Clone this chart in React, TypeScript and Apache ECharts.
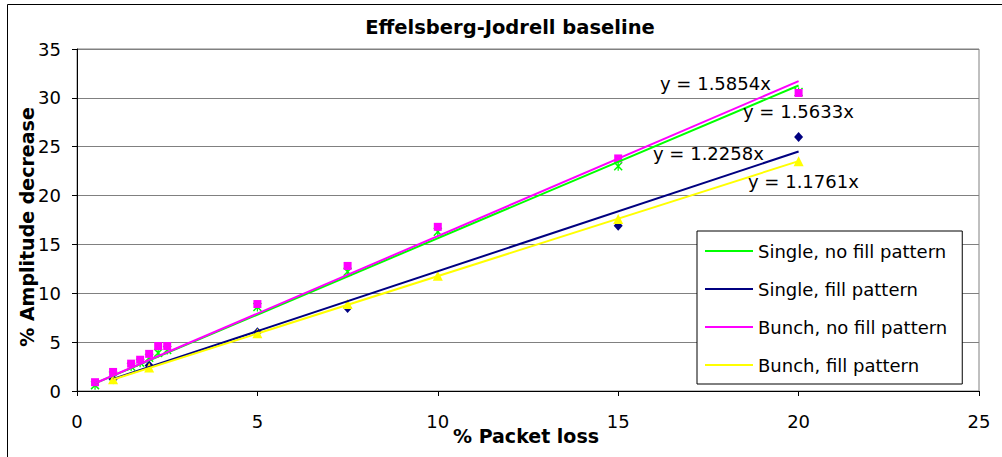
import React, { useEffect, useRef } from "react";
import * as echarts from "echarts";

const chartTitle = "Effelsberg-Jodrell baseline";
const xAxisTitle = "% Packet loss";
const yAxisTitle = "% Amplitude decrease";

const seriesNames = [
  "Single, no fill pattern",
  "Single, fill pattern",
  "Bunch, no fill pattern",
  "Bunch, fill pattern",
];
const seriesColors = ["#00ff00", "#000080", "#ff00ff", "#ffff00"];

const singleNoFillX = [0.5, 1, 1.5, 1.75, 2, 2.25, 2.5, 5, 7.5, 10, 15, 20];
const singleNoFillY = [0.6, 1.6, 2.5, 2.9, 3.4, 3.9, 4.2, 8.6, 12.2, 16.3, 23.0, 30.6];

const singleFillX = [1, 2, 5, 7.5, 15, 20];
const singleFillY = [1.2, 2.6, 6.0, 8.5, 16.9, 26.0];

const bunchNoFillX = [0.5, 1, 1.5, 1.75, 2, 2.25, 2.5, 5, 7.5, 10, 15, 20];
const bunchNoFillY = [0.9, 1.95, 2.8, 3.2, 3.8, 4.6, 4.6, 8.9, 12.8, 16.8, 23.8, 30.5];

const bunchFillX = [1, 2, 5, 7.5, 10, 15, 20];
const bunchFillY = [1.2, 2.4, 5.9, 8.9, 11.8, 17.6, 23.5];

const trendSlopes = [1.5633, 1.2258, 1.5854, 1.1761];

const xTickMin = 0;
const xTickMax = 25;
const xTickStep = 5;
const yTickMin = 0;
const yTickMax = 35;
const yTickStep = 5;

const FONT = "'DejaVu Sans', sans-serif";

const starX =
  "path://M0,1.2L1.2,0L5,3.8L8.8,0L10,1.2L6.2,5L10,8.8L8.8,10L5,6.2L1.2,10L0,8.8L3.8,5Z M4.3,0L5.7,0L5.7,10L4.3,10Z";

export default function App() {
  const ref = useRef<HTMLDivElement>(null);

  useEffect(() => {
    if (!ref.current) return;
    const chart = echarts.init(ref.current, undefined, { renderer: "svg" });

    const xs = [singleNoFillX, singleFillX, bunchNoFillX, bunchFillX];
    const ys = [singleNoFillY, singleFillY, bunchNoFillY, bunchFillY];
    const symbols: any[] = [starX, "diamond", "rect", "triangle"];
    const symbolSizes: any[] = [9, [9, 10], 8, 10];

    const scatterSeries = seriesNames.map((name, i) => ({
      name,
      type: "scatter",
      symbol: symbols[i],
      symbolSize: symbolSizes[i],
      itemStyle: { color: seriesColors[i], opacity: 1 },
      data: xs[i].map((x, j) => [x, ys[i][j]]),
      z: 3,
    }));

    const trendSeries = seriesNames.map((name, i) => {
      const xmin = Math.min(...xs[i]);
      const xmax = Math.max(...xs[i]);
      return {
        name: name + " trend",
        type: "line",
        showSymbol: false,
        symbol: "none",
        lineStyle: { color: seriesColors[i], width: 2 },
        data: [
          [xmin, trendSlopes[i] * xmin],
          [xmax, trendSlopes[i] * xmax],
        ],
        z: 4,
        silent: true,
      };
    });

    const eqPositions = [
      [743, 111],
      [653, 153.5],
      [660, 83.5],
      [748, 181.5],
    ];

    const option: any = {
      animation: false,
      backgroundColor: "#ffffff",
      textStyle: { fontFamily: FONT },
      grid: {
        left: 77,
        right: 23,
        top: 49,
        bottom: 66,
        show: true,
        borderColor: "#808080",
        borderWidth: 1,
        backgroundColor: "transparent",
      },
      xAxis: {
        type: "value",
        min: xTickMin,
        max: xTickMax,
        interval: xTickStep,
        axisLine: { show: true, onZero: false, lineStyle: { color: "#000", width: 1 } },
        axisTick: { show: true, length: 5, lineStyle: { color: "#000" } },
        axisLabel: { color: "#000", fontSize: 18, fontFamily: FONT, margin: 21 },
        splitLine: { show: false },
      },
      yAxis: {
        type: "value",
        min: yTickMin,
        max: yTickMax,
        interval: yTickStep,
        axisLine: { show: true, onZero: false, lineStyle: { color: "#000", width: 1 } },
        axisTick: { show: true, length: 5, lineStyle: { color: "#000" } },
        axisLabel: { color: "#000", fontSize: 18, fontFamily: FONT, margin: 16 },
        splitLine: { show: true, lineStyle: { color: "#808080", width: 1 } },
      },
      legend: {
        data: seriesNames,
        orient: "vertical",
        left: 697,
        top: 231,
        icon: "rect",
        itemWidth: 48,
        itemHeight: 2,
        itemGap: 20,
        padding: [11, 15, 10, 8],
        borderColor: "#000",
        borderWidth: 1,
        backgroundColor: "#fff",
        textStyle: { color: "#000", fontSize: 18, fontFamily: FONT },
        selectedMode: false,
        z: 10,
      },
      graphic: [
        {
          type: "rect",
          shape: { x: 7.5, y: 4.5, width: 2000, height: 2000 },
          style: { fill: "none", stroke: "#000", lineWidth: 1 },
          silent: true,
          z: -1,
        },
        {
          type: "text",
          x: 510,
          y: 27,
          style: {
            text: chartTitle,
            fill: "#000",
            font: `bold 19.5px ${FONT}`,
            textAlign: "center",
            textVerticalAlign: "middle",
          },
        },
        {
          type: "text",
          x: 526,
          y: 436,
          style: {
            text: xAxisTitle,
            fill: "#000",
            font: `bold 19px ${FONT}`,
            textAlign: "center",
            textVerticalAlign: "middle",
          },
        },
        {
          type: "text",
          x: 27,
          y: 227,
          rotation: Math.PI / 2,
          style: {
            text: yAxisTitle,
            fill: "#000",
            font: `bold 19px ${FONT}`,
            textAlign: "center",
            textVerticalAlign: "middle",
          },
        },
        ...trendSlopes.map((s, i) => ({
          type: "text",
          x: eqPositions[i][0],
          y: eqPositions[i][1],
          z: 20,
          style: {
            text: `y = ${s.toFixed(4)}x`,
            fill: "#000",
            font: `18px ${FONT}`,
            textAlign: "left",
            textVerticalAlign: "middle",
          },
        })),
      ],
      series: [...scatterSeries, ...trendSeries],
    };

    chart.setOption(option);
    return () => chart.dispose();
  }, []);

  return (
    <div
      ref={ref}
      style={{ position: "absolute", left: 0, top: 0, width: 1002, height: 457 }}
    />
  );
}
